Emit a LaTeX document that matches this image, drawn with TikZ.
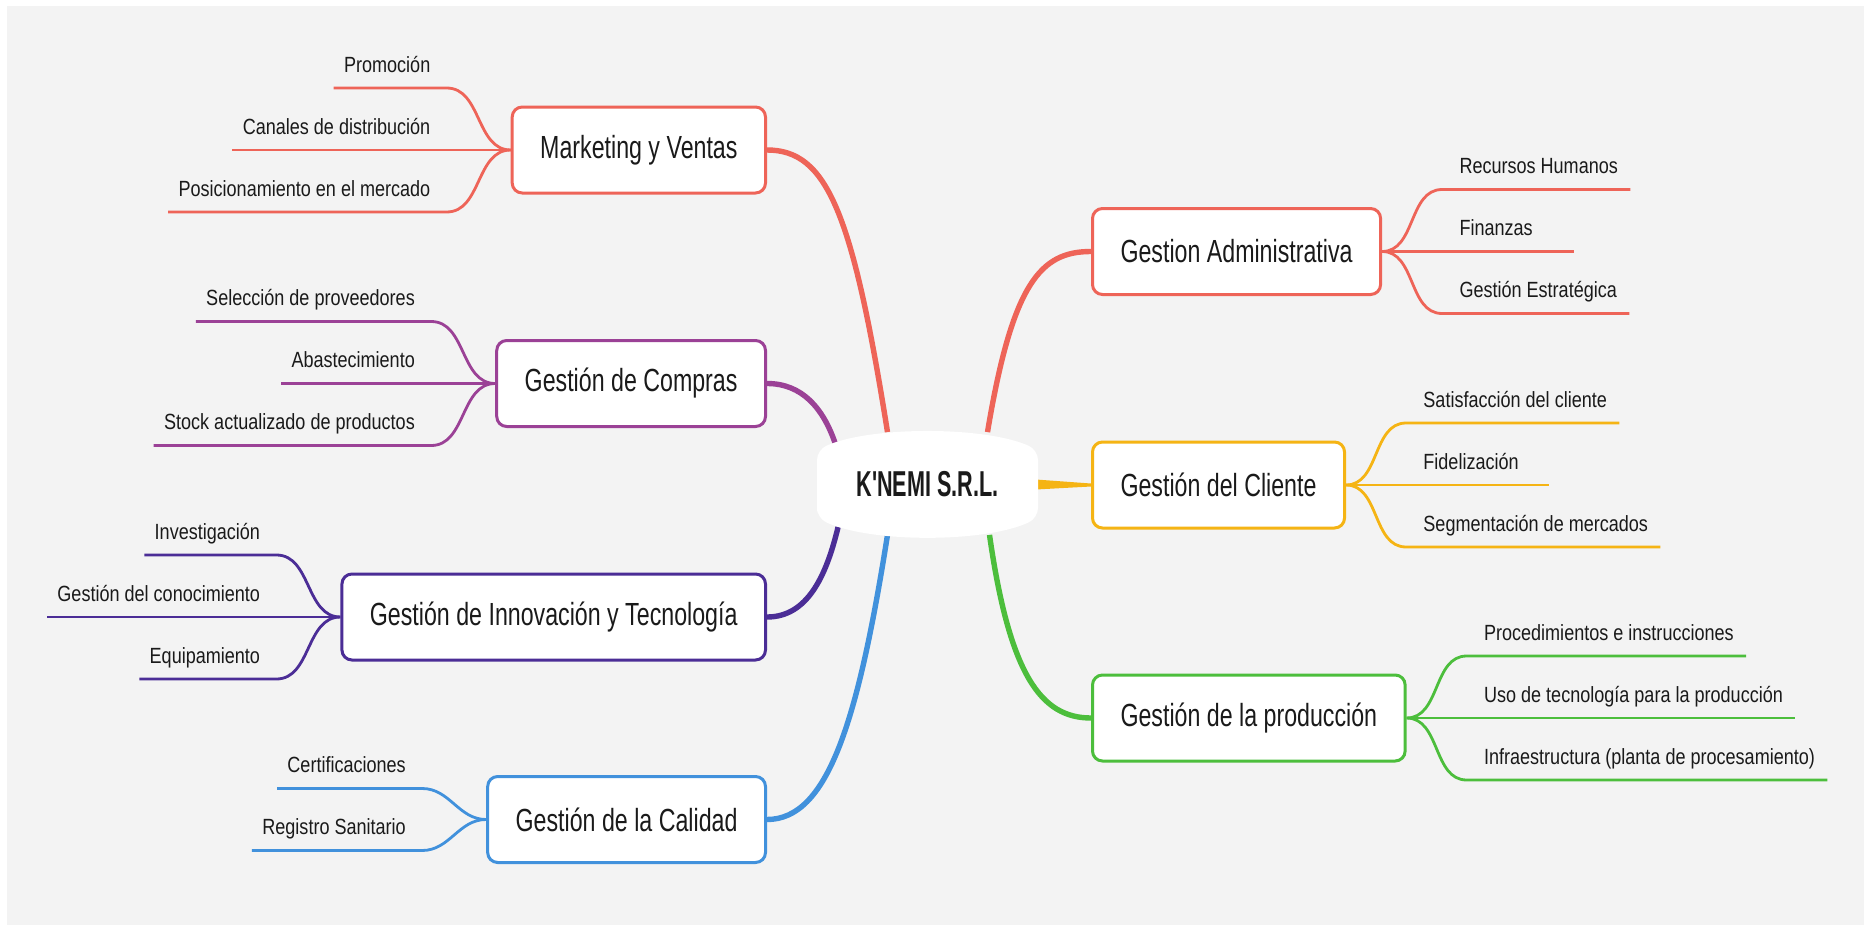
\documentclass[tikz,border=0pt]{standalone}
\usepackage{fontspec}
\setmainfont{Liberation Sans}[FakeStretch=0.82]
\newfontfamily\boxfont{Liberation Sans}[FakeStretch=0.725]
\newfontfamily\hubfont{Liberation Sans}[FakeStretch=0.6]
\usepackage{xcolor}
\usepackage{tikz}
\usetikzlibrary{positioning, calc}
\definecolor{canvas}{RGB}{243,243,243}
\definecolor{ink}{RGB}{26,26,26}
\definecolor{mktcolor}{RGB}{238,100,88}
\definecolor{cmpcolor}{RGB}{155,65,150}
\definecolor{inncolor}{RGB}{75,45,150}
\definecolor{calcolor}{RGB}{65,145,220}
\definecolor{clicolor}{RGB}{245,180,20}
\definecolor{prdcolor}{RGB}{76,190,60}
\pgfdeclarelayer{background}
\pgfdeclarelayer{foreground}
\pgfsetlayers{background,main,foreground}
\tikzset{
  topic/.style={rectangle, rounded corners=5pt, draw, line width=1.5pt, fill=white, minimum height=43pt, inner xsep=14pt, text=ink, font=\boxfont\fontsize{16}{19}\selectfont},
  hub/.style={rectangle, inner sep=0pt, minimum width=110pt, minimum height=52pt, text=ink, font=\hubfont\bfseries\fontsize{18}{22}\selectfont},
  leaf/.style={inner sep=0pt, text=ink, font=\fontsize{11}{13}\selectfont},
  branch/.style={line width=2.7pt},
  twig/.style={line width=1.4pt},
}

\begin{document}
\begin{tikzpicture}[x=0.5pt, y=-0.5pt]
    \useasboundingbox (0,0) rectangle (1864,926);
    \begin{pgfonlayer}{background}
    \fill[white] (0,0) rectangle (1864,926);
    \fill[canvas] (7,6) rectangle (1864,925);
    \end{pgfonlayer}

    \begin{pgfonlayer}{foreground}
    % Center
    \fill[white, rounded corners=5pt] (817,518) -- (817,450) .. controls (870,426) and (985,426) .. (1038,450) -- (1038,518) .. controls (985,543) and (870,543) .. (817,518) -- cycle;
    \node[hub] (hub) at (927.5,484.5) {K'NEMI S.R.L.};

    % Left topics
    \node[topic, draw=mktcolor, anchor=east] (mkt) at (767,150) {Marketing y Ventas};
    \node[topic, draw=cmpcolor, anchor=east] (cmp) at (767,383.5) {Gestión de Compras};
    \node[topic, draw=inncolor, anchor=east] (inn) at (767,617) {Gestión de Innovación y Tecnología};
    \node[topic, draw=calcolor, anchor=east] (cal) at (767,819.5) {Gestión de la Calidad};

    % Right topics
    \node[topic, draw=mktcolor, anchor=west] (adm) at (1091,251.5) {Gestion Administrativa};
    \node[topic, draw=clicolor, anchor=west] (cli) at (1091,485) {Gestión del Cliente};
    \node[topic, draw=prdcolor, anchor=west] (prd) at (1091,718) {Gestión de la producción};
    \end{pgfonlayer}

    % Branches from the center
    \draw[branch, mktcolor] ($(hub.north)+(-40,0)$) .. controls +(-35,-220) and +(60,0) .. (mkt.east);
    \draw[branch, cmpcolor] ($(hub.north west)+(18,11)$) .. controls +(-12,-35) and +(35,0) .. (cmp.east);
    \draw[branch, inncolor] ($(hub.south west)+(21,-10)$) .. controls +(-12,50) and +(40,0) .. (inn.east);
    \draw[branch, calcolor] ($(hub.south)+(-40,-2)$) .. controls +(-30,190) and +(60,0) .. (cal.east);
    \draw[branch, mktcolor] ($(hub.north)+(60,0)$) .. controls +(25,-150) and +(-50,0) .. (adm.west);
    \fill[clicolor] ($(hub.east)+(-2,-5)$) -- ($(cli.west)+(0,-1.5)$) -- ($(cli.west)+(0,1.5)$) -- ($(hub.east)+(-2,5)$) -- cycle;
    \draw[branch, prdcolor] ($(hub.south)+(62,-2)$) .. controls +(20,140) and +(-50,0) .. (prd.west);

    % Marketing y Ventas
    \node[leaf, anchor=base east] (promo) at ($(mkt.west)+(-80,-78)$) {Promoción};
    \node[leaf, anchor=base east] (canal) at ($(mkt.west)+(-80,-16)$) {Canales de distribución};
    \node[leaf, anchor=base east] (posic) at ($(mkt.west)+(-80,46)$) {Posicionamiento en el mercado};
    \draw[twig, mktcolor] (mkt.west) to[out=180,in=0] ($(promo.base east)+(16,16)$) -- ($(promo.base west)+(-10,16)$);
    \draw[twig, mktcolor] (mkt.west) to[out=180,in=0] ($(canal.base east)+(16,16)$) -- ($(canal.base west)+(-10,16)$);
    \draw[twig, mktcolor] (mkt.west) to[out=180,in=0] ($(posic.base east)+(16,16)$) -- ($(posic.base west)+(-10,16)$);

    % Gestion de Compras
    \node[leaf, anchor=base east] (selec) at ($(cmp.west)+(-80,-78)$) {Selección de proveedores};
    \node[leaf, anchor=base east] (abast) at ($(cmp.west)+(-80,-16)$) {Abastecimiento};
    \node[leaf, anchor=base east] (stock) at ($(cmp.west)+(-80,46)$) {Stock actualizado de productos};
    \draw[twig, cmpcolor] (cmp.west) to[out=180,in=0] ($(selec.base east)+(16,16)$) -- ($(selec.base west)+(-10,16)$);
    \draw[twig, cmpcolor] (cmp.west) to[out=180,in=0] ($(abast.base east)+(16,16)$) -- ($(abast.base west)+(-10,16)$);
    \draw[twig, cmpcolor] (cmp.west) to[out=180,in=0] ($(stock.base east)+(16,16)$) -- ($(stock.base west)+(-10,16)$);

    % Innovacion y Tecnologia
    \node[leaf, anchor=base east] (invest) at ($(inn.west)+(-80,-78)$) {Investigación};
    \node[leaf, anchor=base east] (conoc) at ($(inn.west)+(-80,-16)$) {Gestión del conocimiento};
    \node[leaf, anchor=base east] (equip) at ($(inn.west)+(-80,46)$) {Equipamiento};
    \draw[twig, inncolor] (inn.west) to[out=180,in=0] ($(invest.base east)+(16,16)$) -- ($(invest.base west)+(-10,16)$);
    \draw[twig, inncolor] (inn.west) to[out=180,in=0] ($(conoc.base east)+(16,16)$) -- ($(conoc.base west)+(-10,16)$);
    \draw[twig, inncolor] (inn.west) to[out=180,in=0] ($(equip.base east)+(16,16)$) -- ($(equip.base west)+(-10,16)$);

    % Calidad
    \node[leaf, anchor=base east] (certif) at ($(cal.west)+(-80,-47)$) {Certificaciones};
    \node[leaf, anchor=base east] (regis) at ($(cal.west)+(-80,15)$) {Registro Sanitario};
    \draw[twig, calcolor] (cal.west) to[out=180,in=0] ($(certif.base east)+(16,16)$) -- ($(certif.base west)+(-10,16)$);
    \draw[twig, calcolor] (cal.west) to[out=180,in=0] ($(regis.base east)+(16,16)$) -- ($(regis.base west)+(-10,16)$);

    % Gestion Administrativa
    \node[leaf, anchor=base west] (rrhh) at ($(adm.east)+(77,-78)$) {Recursos Humanos};
    \node[leaf, anchor=base west] (finan) at ($(adm.east)+(77,-16)$) {Finanzas};
    \node[leaf, anchor=base west] (estra) at ($(adm.east)+(77,46)$) {Gestión Estratégica};
    \draw[twig, mktcolor] (adm.east) to[out=0,in=180] ($(rrhh.base west)+(-17,16)$) -- ($(rrhh.base east)+(12,16)$);
    \draw[twig, mktcolor] (adm.east) to[out=0,in=180] ($(finan.base west)+(-17,16)$) -- ($(finan.base east)+(41,16)$);
    \draw[twig, mktcolor] (adm.east) to[out=0,in=180] ($(estra.base west)+(-17,16)$) -- ($(estra.base east)+(12,16)$);

    % Gestion del Cliente
    \node[leaf, anchor=base west] (satis) at ($(cli.east)+(77,-78)$) {Satisfacción del cliente};
    \node[leaf, anchor=base west] (fidel) at ($(cli.east)+(77,-16)$) {Fidelización};
    \node[leaf, anchor=base west] (segme) at ($(cli.east)+(77,46)$) {Segmentación de mercados};
    \draw[twig, clicolor] (cli.east) to[out=0,in=180] ($(satis.base west)+(-17,16)$) -- ($(satis.base east)+(12,16)$);
    \draw[twig, clicolor] (cli.east) to[out=0,in=180] ($(fidel.base west)+(-17,16)$) -- ($(fidel.base east)+(30,16)$);
    \draw[twig, clicolor] (cli.east) to[out=0,in=180] ($(segme.base west)+(-17,16)$) -- ($(segme.base east)+(12,16)$);

    % Gestion de la produccion
    \node[leaf, anchor=base west] (proce) at ($(prd.east)+(77,-78)$) {Procedimientos e instrucciones};
    \node[leaf, anchor=base west] (tecno) at ($(prd.east)+(77,-16)$) {Uso de tecnología para la producción};
    \node[leaf, anchor=base west] (infra) at ($(prd.east)+(77,46)$) {Infraestructura (planta de procesamiento)};
    \draw[twig, prdcolor] (prd.east) to[out=0,in=180] ($(proce.base west)+(-17,16)$) -- ($(proce.base east)+(12,16)$);
    \draw[twig, prdcolor] (prd.east) to[out=0,in=180] ($(tecno.base west)+(-17,16)$) -- ($(tecno.base east)+(12,16)$);
    \draw[twig, prdcolor] (prd.east) to[out=0,in=180] ($(infra.base west)+(-17,16)$) -- ($(infra.base east)+(12,16)$);
\end{tikzpicture}
\end{document}
